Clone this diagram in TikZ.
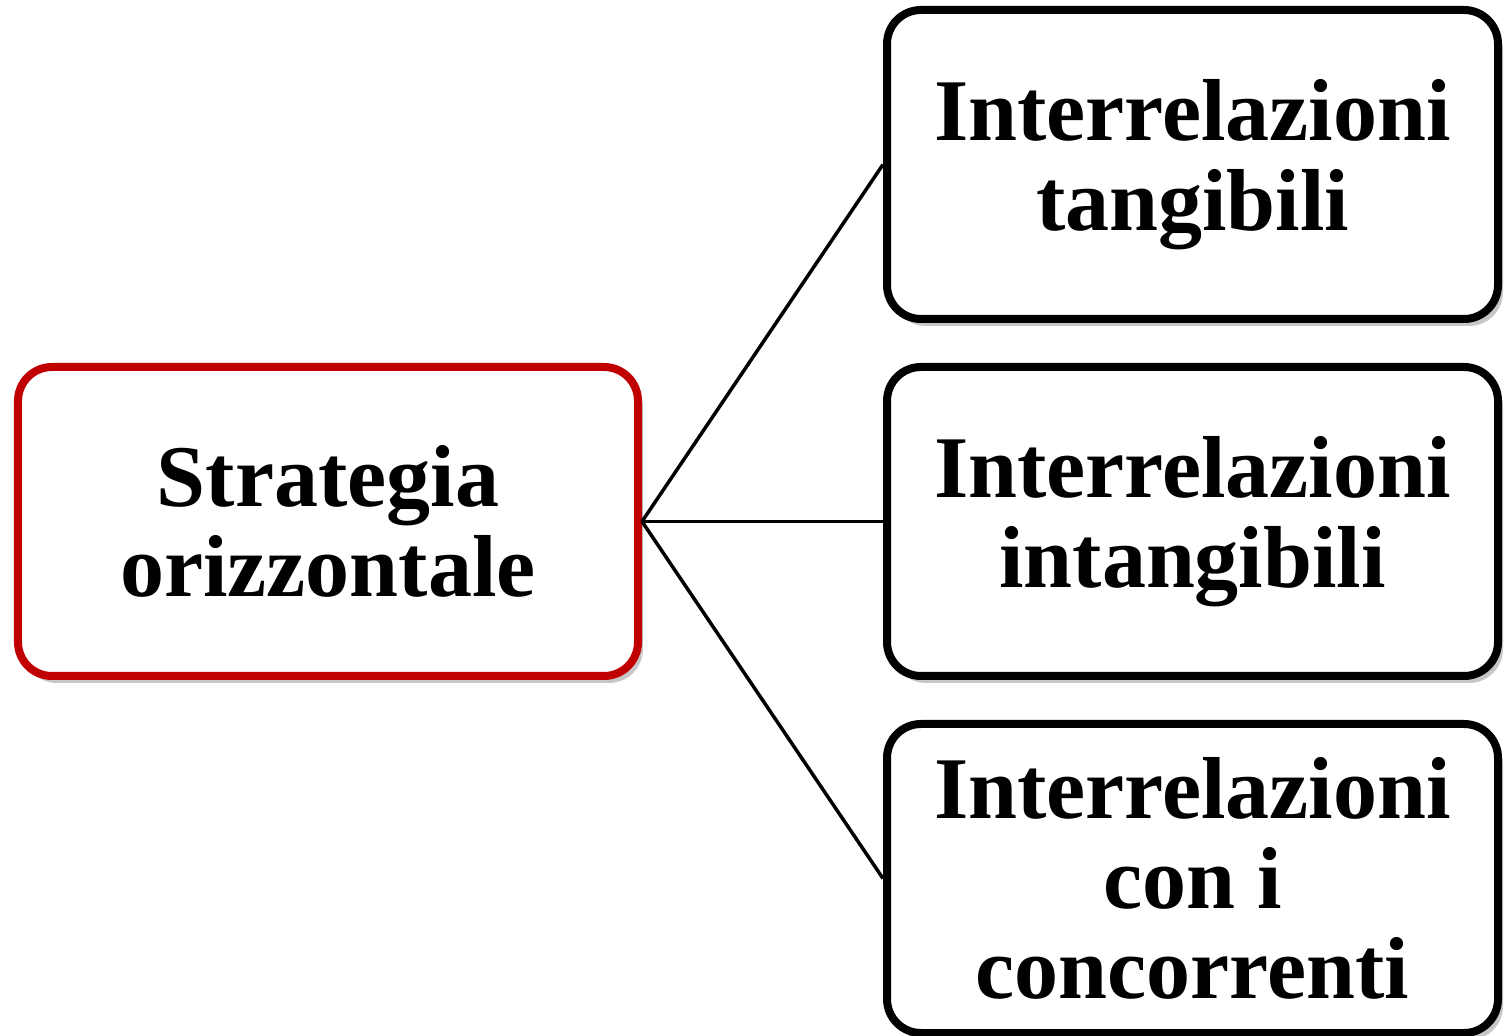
\documentclass[tikz,border=0pt]{standalone}
\usepackage{fontspec}
\setmainfont{Liberation Serif}
\usepackage{tikz}
\usetikzlibrary{shapes,backgrounds,positioning,shadows}
\definecolor{strategyred}{RGB}{192,0,0}
\tikzset{
    rootbox/.style   = {draw=strategyred, fill=white, line width=4pt, rounded corners=17pt,
                        minimum width=310pt, minimum height=154.5pt},
    leafbox/.style   = {draw=black, fill=white, line width=4pt, rounded corners=17pt,
                        minimum width=305.5pt, minimum height=154.5pt},
    boxshadow/.style = {drop shadow={shadow xshift=2.5pt, shadow yshift=-3.5pt, fill=black, opacity=0.22}},
    linkedge/.style  = {black, -, line width=1.75pt},
}

\begin{document}
\begin{tikzpicture}
        \tikzstyle{every node} = [align=center, inner sep=0pt, font=\fontsize{44}{45}\selectfont\bfseries]
        \useasboundingbox (-164pt,-257.25pt) rectangle (589.5pt,260.75pt);
        \node[rootbox, boxshadow](S){Strategia\\orizzontale};
        \node[leafbox, boxshadow, right=120.5pt of S](I){Interrelazioni\\intangibili};
        \node[leafbox, boxshadow, above=20pt of I](T){Interrelazioni\\tangibili};
        \node[leafbox, boxshadow, below=20pt of I](C){Interrelazioni\\con i\\concorrenti};

        \path (S.east) edge[linkedge] (T.west);
        \path (S.east) edge[linkedge] (I.west);
        \path (S.east) edge[linkedge] (C.west);
    \end{tikzpicture}
\end{document}
